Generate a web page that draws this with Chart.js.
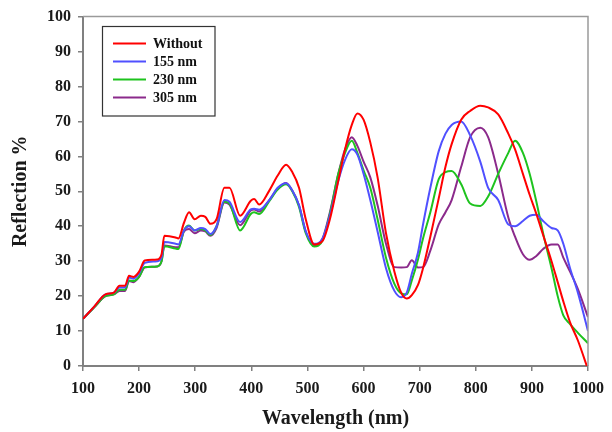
<!DOCTYPE html>
<html>
<head>
<meta charset="utf-8">
<script src="https://cdn.jsdelivr.net/npm/chart.js@4"></script>
<style>
  html, body { margin: 0; padding: 0; background: #fff; }
  #wrap { width: 612px; height: 432px; }
</style>
</head>
<body>
<div id="wrap"><canvas id="chart" width="612" height="432"></canvas></div>
<script>
const wavelength = [100, 120, 140, 155, 165, 175, 182, 190, 200, 210, 232, 240, 245, 265, 270, 280, 289, 299, 310, 318, 327, 338, 352, 361, 380, 399, 405, 414, 432, 447, 462, 473, 485, 497, 512, 527, 540, 555, 567, 579, 589, 600, 612, 625, 640, 655, 667, 677, 686, 697, 706, 719, 734, 746, 757, 774, 790, 808, 822, 840, 858, 870, 884, 896, 908, 920, 935, 946, 956, 968, 982, 1000];

const without = [13.5, 17, 20.5, 21, 23, 23, 25.8, 25.5, 27, 30.2, 30.5, 32, 37.3, 36.8, 36.5, 41, 44, 42, 43, 42.7, 40.7, 42, 51, 51, 43, 47.3, 47.8, 46.2, 50.2, 54.5, 57.6, 55.5, 51, 42, 34.8, 35.8, 42, 53, 62, 69, 72.3, 70.5, 64, 54, 38, 27, 21, 19.3, 20.3, 23.2, 28, 37, 48, 57, 63.5, 70.5, 73, 74.5, 74, 72, 66.5, 62, 55, 49, 43.5, 37.5, 30, 24, 18.5, 12.5, 7.3, -1];

const nm155 = [13.5, 17, 20.5, 21, 22.5, 22.5, 25.3, 25, 26.5, 29.5, 30, 31, 35.5, 35, 34.8, 38.8, 40, 38.8, 39.5, 39.2, 37.8, 40, 47.5, 47, 41.2, 44.8, 45, 44.7, 47.5, 51, 52.3, 50.2, 46, 38.5, 35, 36.5, 43, 53, 59, 62, 60.5, 55, 47.5, 38.5, 28, 21.5, 19.7, 21, 26.4, 32.5, 40.5, 51, 61.5, 66.5, 69, 70, 66, 58.5, 51, 47.5, 40.5, 40, 41.5, 43, 43.3, 41.5, 39.5, 38.8, 35, 28, 21, 10];

const nm230 = [13.5, 16.8, 20, 20.5, 21.8, 21.8, 24.5, 24.3, 25.5, 28.3, 28.5, 30, 34.3, 33.6, 33.5, 38.8, 40.2, 38.8, 39.2, 38.8, 37.5, 40, 47, 46.5, 38.8, 43.5, 44, 43.5, 47.2, 50.5, 52, 50, 45.5, 38, 34.2, 36, 43.5, 55, 61, 64.5, 61, 56, 51, 42, 31, 23.5, 20.8, 20.5, 24.5, 30.5, 36.5, 44, 53.5, 55.5, 55.8, 52, 46.5, 45.8, 48.5, 55, 61, 64.5, 61, 55, 47, 38, 28, 20, 14.5, 12, 9.5, 6.5];

const nm305 = [13.5, 16.8, 20, 20.5, 21.5, 21.5, 24.3, 24, 25.5, 28.2, 28.5, 30, 34.5, 34, 34, 38.5, 39.2, 38, 38.8, 38.5, 37.3, 39.5, 46.8, 46.2, 40.3, 44.5, 44.8, 44.2, 47.5, 50.8, 52.4, 50.2, 46, 38.5, 34.5, 36.5, 44, 55, 62, 65.5, 63, 58.5, 54, 46, 35, 28.3, 28.2, 28.3, 30.3, 28.2, 28.3, 33, 40.5, 44, 47.5, 57, 65.5, 68.2, 65.5, 55, 42.5, 37, 32, 30.4, 31.5, 33.5, 34.8, 34.8, 31, 27, 22, 14];

const seriesNames = ['Without', '155 nm', '230 nm', '305 nm'];
const seriesColors = ['#ff0000', '#5050ff', '#1ec31e', '#8b2a8b'];
const xTicks = [100, 200, 300, 400, 500, 600, 700, 800, 900, 1000];
const yTicks = [0, 10, 20, 30, 40, 50, 60, 70, 80, 90, 100];

const serif = "'Liberation Serif', 'Times New Roman', serif";

const toPoints = vals => vals.map((v, i) => ({ x: wavelength[i], y: v }));

// frame on top/right + legend box inside the plot
const framePlugin = {
    id: 'frame',
    afterDraw(chart) {
        const { ctx, chartArea: a } = chart;
        ctx.save();
        ctx.strokeStyle = '#9a9a9a';
        ctx.lineWidth = 1.5;
        ctx.beginPath();
        ctx.moveTo(a.left, a.top);
        ctx.lineTo(a.right, a.top);
        ctx.lineTo(a.right, a.bottom);
        ctx.stroke();

        // legend
        ctx.strokeStyle = '#333';
        ctx.lineWidth = 1.2;
        ctx.strokeRect(102.5, 26.5, 112.5, 89.5);
        ctx.font = 'bold 14px ' + serif;
        ctx.textBaseline = 'middle';
        ctx.fillStyle = '#111';
        chart.data.datasets.forEach((ds, i) => {
            const y = 43.5 + i * 18;
            ctx.strokeStyle = ds.borderColor;
            ctx.lineWidth = 2;
            ctx.beginPath();
            ctx.moveTo(113, y);
            ctx.lineTo(146, y);
            ctx.stroke();
            ctx.fillText(ds.label, 153, y + 0.5);
        });
        ctx.restore();
    }
};

new Chart(document.getElementById('chart'), {
    type: 'line',
    data: {
        datasets: seriesNames.map((name, i) => ({
            label: name,
            data: toPoints([without, nm155, nm230, nm305][i]),
            borderColor: seriesColors[i],
            borderWidth: 2,
            pointRadius: 0,
            cubicInterpolationMode: 'monotone',
            fill: false
        }))
    },
    options: {
        responsive: false,
        animation: false,
        layout: { padding: { left: 0, right: 6, top: 14, bottom: 0 } },
        plugins: {
            legend: { display: false },
            tooltip: { enabled: false }
        },
        scales: {
            x: {
                type: 'linear',
                min: 100,
                max: 1000,
                afterBuildTicks: scale => { scale.ticks = xTicks.map(v => ({ value: v })); },
                afterFit: scale => { scale.height = 66; },
                border: { color: '#808080', width: 2 },
                grid: { drawOnChartArea: false, drawTicks: true, tickLength: 5, color: '#808080', lineWidth: 1.5 },
                ticks: { color: '#1a1a1a', padding: 8, maxRotation: 0, callback: v => String(v), font: { family: serif, weight: 'bold', size: 16 } },
                title: { display: true, text: 'Wavelength (nm)', color: '#1a1a1a', padding: { top: 0, bottom: 1 }, font: { family: serif, weight: 'bold', size: 20 } }
            },
            y: {
                min: 0,
                max: 100,
                afterBuildTicks: scale => { scale.ticks = yTicks.map(v => ({ value: v })); },
                afterFit: scale => { scale.width = 83; },
                border: { color: '#808080', width: 2 },
                grid: { drawOnChartArea: false, drawTicks: true, tickLength: 5, color: '#808080', lineWidth: 1.5 },
                ticks: { color: '#1a1a1a', padding: 7, callback: v => String(v), font: { family: serif, weight: 'bold', size: 16 } },
                title: { display: true, text: 'Reflection %', color: '#1a1a1a', padding: { top: 9, bottom: 0 }, font: { family: serif, weight: 'bold', size: 20 } }
            }
        }
    },
    plugins: [framePlugin]
});
</script>
</body>
</html>
